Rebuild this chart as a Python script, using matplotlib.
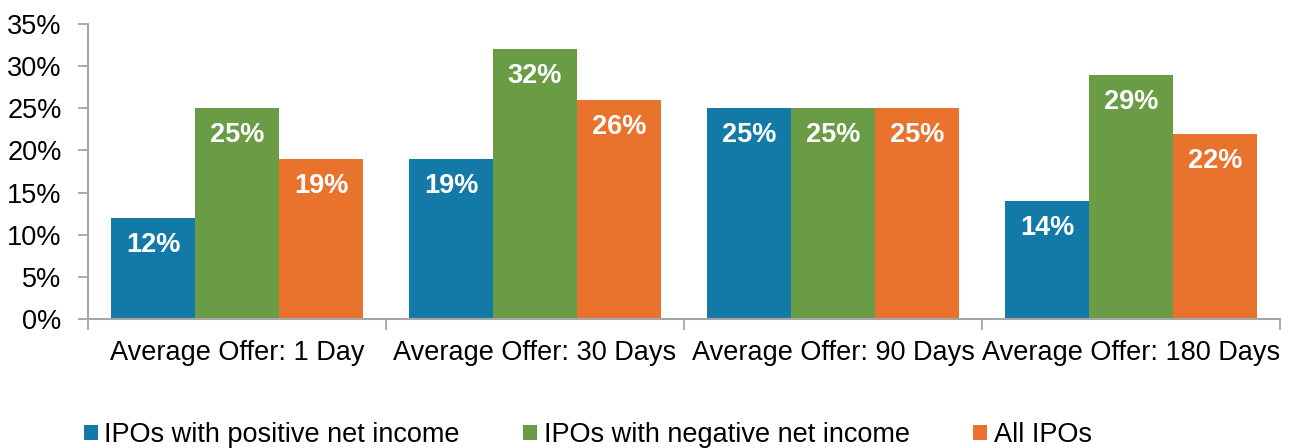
import matplotlib.pyplot as plt
import numpy as np
from matplotlib.ticker import FuncFormatter, FixedLocator

plt.rcParams['font.family'] = ['Liberation Sans', 'DejaVu Sans']

categories = ["Average Offer: 1 Day", "Average Offer: 30 Days",
              "Average Offer: 90 Days", "Average Offer: 180 Days"]
positive = [12, 19, 25, 14]
negative = [25, 32, 25, 29]
all_ipos = [19, 26, 25, 22]
series_names = ["IPOs with positive net income", "IPOs with negative net income", "All IPOs"]

colors = ["#137AA8", "#6A9C45", "#E9732D"]
axis_gray = "#A6A6A6"

fig = plt.figure(figsize=(12.92, 4.48), dpi=100)
ax = fig.add_axes([88/1292, 1 - 319/448, 1192/1292, 295/448])

x = np.arange(len(categories))
w = 0.282
for i, (vals, name, c) in enumerate(zip([positive, negative, all_ipos], series_names, colors)):
    bars = ax.bar(x + (i - 1) * w, vals, w, color=c, label=name)
    for b, v in zip(bars, vals):
        ax.annotate(f"{v}%", (b.get_x() + b.get_width() / 2, b.get_height()),
                    xytext=(0, -19.5), textcoords="offset points",
                    ha="center", va="center", color="white",
                    fontsize=19.5, fontweight="bold")

ax.set_xlim(-0.5, 3.5)
ax.set_ylim(0, 35)
ax.set_yticks(np.arange(0, 36, 5))
ax.yaxis.set_major_formatter(FuncFormatter(lambda v, p: f"{v:.0f}%"))

ax.xaxis.set_major_locator(FixedLocator(np.arange(-0.5, 4, 1)))
ax.xaxis.set_minor_locator(FixedLocator(x))
ax.set_xticklabels([], minor=False)
ax.set_xticklabels(categories, minor=True)
ax.tick_params(axis="x", which="major", length=8, width=1.3, color=axis_gray)
ax.tick_params(axis="x", which="minor", length=0, pad=15, labelsize=19.5)
ax.tick_params(axis="y", length=7, width=1.3, color=axis_gray, pad=12, labelsize=19.5)

for s in ["top", "right"]:
    ax.spines[s].set_visible(False)
for s in ["left", "bottom"]:
    ax.spines[s].set_color(axis_gray)
    ax.spines[s].set_linewidth(1.5)

fig.legend(loc="center left", bbox_to_anchor=(84/1292, 1 - 435/448), ncol=3,
           frameon=False, fontsize=19.5, handlelength=0.5, handleheight=0.5,
           handletextpad=0.25, columnspacing=2.35, borderpad=0, borderaxespad=0)

fig.savefig("out.png", dpi=100)
